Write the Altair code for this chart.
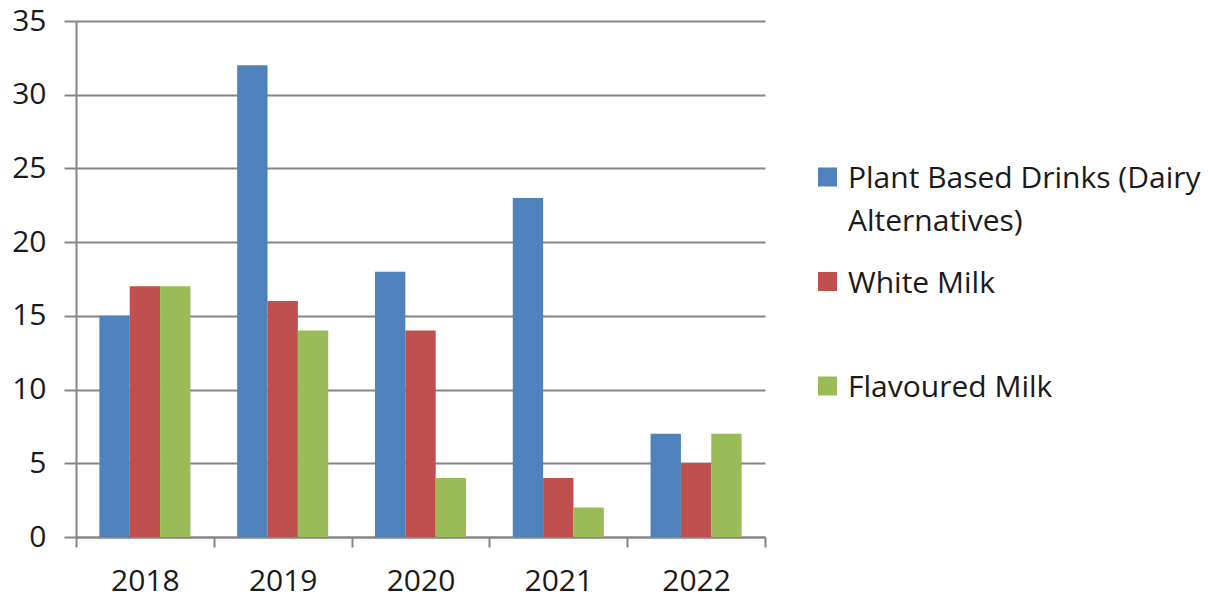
import altair as alt
import pandas as pd

# Survey results per year for each drink category
years = ["2018", "2019", "2020", "2021", "2022"]
series = ["Plant Based Drinks (Dairy Alternatives)", "White Milk", "Flavoured Milk"]
legend_labels = ["Plant Based Drinks (Dairy\nAlternatives)", "White Milk", "Flavoured Milk"]
plant_based = [15, 32, 18, 23, 7]
white_milk = [17, 16, 14, 4, 5]
flavoured_milk = [17, 14, 4, 2, 7]
colors = ["#4F81BD", "#C0504D", "#9BBB59"]

FONT = "Open Sans"
GRID = "#868686"
TEXT = "#1a1a1a"

rows = []
for name, vals in zip(series, [plant_based, white_milk, flavoured_milk]):
    for y, v in zip(years, vals):
        rows.append({"year": y, "series": name, "value": v})
df = pd.DataFrame(rows)

color_scale = alt.Scale(domain=series, range=colors)
no_frame = alt.ViewBackground(stroke="transparent", strokeWidth=0)

bars = alt.Chart(df).mark_bar().encode(
    x=alt.X(
        "year:N",
        sort=years,
        scale=alt.Scale(paddingInner=0, paddingOuter=0),
        axis=alt.Axis(
            title=None,
            labelAngle=0,
            tickBand="extent",
            tickSize=10,
            tickWidth=2,
            tickColor=GRID,
            domainColor=GRID,
            domainWidth=2,
            labelFont=FONT,
            labelFontSize=30,
            labelColor=TEXT,
            labelPadding=19,
            grid=False,
        ),
    ),
    # the three bars of a year sit together in the middle of its slot
    xOffset=alt.XOffset(
        "series:N",
        sort=series,
        scale=alt.Scale(paddingInner=0, paddingOuter=0.77),
    ),
    y=alt.Y(
        "value:Q",
        scale=alt.Scale(domain=[0, 35]),
        axis=alt.Axis(
            title=None,
            values=[0, 5, 10, 15, 20, 25, 30, 35],
            tickSize=12,
            tickWidth=2,
            tickColor=GRID,
            domainColor=GRID,
            domainWidth=2,
            gridColor=GRID,
            gridWidth=2,
            labelFont=FONT,
            labelFontSize=30,
            labelColor=TEXT,
            labelPadding=18,
        ),
    ),
    color=alt.Color("series:N", scale=color_scale, legend=None),
).properties(width=689, height=516, view=no_frame)

legend_df = pd.DataFrame({"series": series, "label": legend_labels})

# legend rows, evenly spaced, starting a little above the middle of the plot
legend_y = alt.Y(
    "series:N",
    sort=series,
    axis=None,
    scale=alt.Scale(type="point", range=[156, 365], padding=0),
)

swatches = alt.Chart(legend_df).mark_square(size=361, opacity=1).encode(
    x=alt.value(19.5),
    y=legend_y,
    color=alt.Color("series:N", scale=color_scale, legend=None),
)

labels = alt.Chart(legend_df).mark_text(
    align="left",
    baseline="top",
    dy=-13,
    lineBreak="\n",
    lineHeight=43,
    font=FONT,
    fontSize=30,
    color=TEXT,
).encode(
    x=alt.value(40),
    y=legend_y,
    text="label:N",
)

legend = (swatches + labels).properties(width=380, height=516, view=no_frame)

chart = (
    alt.hconcat(bars, legend, spacing=43, bounds="flush")
    .properties(padding={"left": 11, "top": 6, "right": 3, "bottom": 3})
    .configure_view(stroke="transparent", strokeWidth=0)
    .configure(background="white")
)

chart.save("out.html", embed_options={"renderer": "svg", "actions": False})
